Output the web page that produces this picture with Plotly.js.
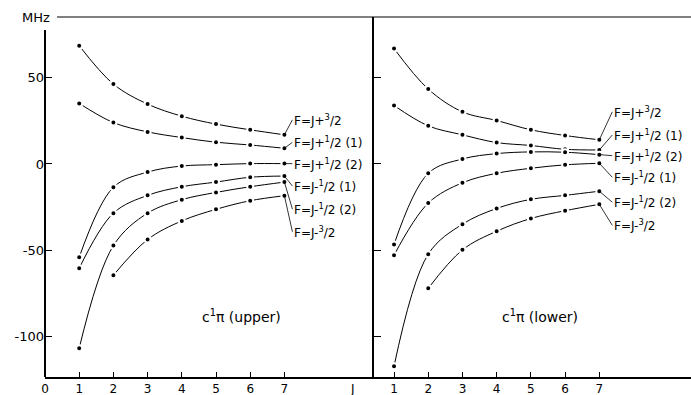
<!DOCTYPE html>
<html>
<head>
<meta charset="utf-8">
<script src="https://cdn.plot.ly/plotly-3.0.1.min.js"></script>
<style>
  html, body { margin: 0; padding: 0; background: #fff; }
  #grafico { width: 691px; height: 395px; }
</style>
</head>
<body>
<div id="grafico"></div>
<script>
// valores de J
const J = [1, 2, 3, 4, 5, 6, 7];

// c1Pi (upper) en MHz
const upperJp32 = [68.6, 46.3, 34.7, 27.7, 23.1, 19.8, 16.9];
const upperJp12a = [35.1, 24.0, 18.6, 15.3, 12.6, 11.0, 9.1];
const upperJp12b = [-54.1, -13.5, -4.7, -1.2, -0.4, 0.2, 0.2];
const upperJm12a = [-60.5, -28.5, -18.2, -13.2, -10.5, -7.7, -7.0];
const upperJm12b = [-106.8, -47.3, -28.5, -20.7, -16.5, -13.2, -10.5];
const upperJm32 = [null, -64.5, -43.8, -33.0, -26.3, -21.3, -18.4];

// c1Pi (lower) en MHz
const lowerJp32 = [66.9, 43.4, 30.2, 25.2, 19.8, 16.5, 14.0];
const lowerJp12a = [33.9, 22.1, 16.9, 12.4, 10.7, 8.5, 8.1];
const lowerJp12b = [-46.7, -5.4, 2.9, 6.0, 7.0, 6.8, 5.4];
const lowerJm12a = [-52.9, -22.7, -10.9, -5.4, -2.5, -0.5, 0.4];
const lowerJm12b = [-117.3, -52.3, -34.9, -25.8, -20.5, -18.2, -15.8];
const lowerJm32 = [null, -72.1, -49.8, -39.0, -31.6, -27.1, -23.4];

const etiquetas = [
    "F=J+<sup>3</sup>/2",
    "F=J+<sup>1</sup>/2 (1)",
    "F=J+<sup>1</sup>/2 (2)",
    "F=J-<sup>1</sup>/2 (1)",
    "F=J-<sup>1</sup>/2 (2)",
    "F=J-<sup>3</sup>/2"
];
const xTicks = [0, 1, 2, 3, 4, 5, 6, 7];
const yTicks = [50, 0, -50, -100];
const yTickText = ["50", "0", "-50", "-100"];

const upper = [upperJp32, upperJp12a, upperJp12b, upperJm12a, upperJm12b, upperJm32];
const lower = [lowerJp32, lowerJp12a, lowerJp12b, lowerJm12a, lowerJm12b, lowerJm32];

const fuente = "DejaVu Sans, Liberation Sans, sans-serif";

function serie(y, xa, ya) {
    return {
        x: J, y: y, xaxis: xa, yaxis: ya,
        mode: "lines+markers",
        line: { color: "black", width: 1, shape: "spline", smoothing: 1 },
        marker: { color: "black", size: 6, line: { color: "white", width: 2 } },
        connectgaps: false,
        showlegend: false,
        hoverinfo: "skip"
    };
}

const trazas = [];
upper.forEach(y => trazas.push(serie(y, "x", "y")));
lower.forEach(y => trazas.push(serie(y, "x2", "y2")));

// desplazamientos de las etiquetas (px)
const ayUpper = [-15, -6, 0, 10, 27, 36];
const ayLower = [-28, -15, 1, 14, 11, 21];

const anotaciones = [];
upper.forEach((y, i) => anotaciones.push({
    x: 7, y: y[6], xref: "x", yref: "y", text: etiquetas[i],
    showarrow: true, arrowhead: 0, arrowwidth: 0.8, arrowcolor: "black",
    ax: 8, ay: ayUpper[i], xanchor: "left", yanchor: "middle",
    font: { family: fuente, size: 12, color: "black" }
}));
lower.forEach((y, i) => anotaciones.push({
    x: 7, y: y[6], xref: "x2", yref: "y2", text: etiquetas[i],
    showarrow: true, arrowhead: 0, arrowwidth: 0.8, arrowcolor: "black",
    ax: 13, ay: ayLower[i], xanchor: "left", yanchor: "middle",
    font: { family: fuente, size: 12, color: "black" }
}));
anotaciones.push(
    { x: 5.75, y: -88, xref: "x", yref: "y", text: "c<sup>1</sup>π (upper)", showarrow: false,
      font: { family: fuente, size: 14, color: "black" } },
    { x: 5.27, y: -88, xref: "x2", yref: "y2", text: "c<sup>1</sup>π (lower)", showarrow: false,
      font: { family: fuente, size: 14, color: "black" } },
    { x: 0.011, y: 1, xref: "paper", yref: "paper", text: "MHz", showarrow: false,
      xanchor: "right", yanchor: "middle", font: { family: fuente, size: 13, color: "black" } },
    { x: 9, y: 0, xref: "x", yref: "paper", text: "J", showarrow: false,
      yanchor: "top", yshift: -3, font: { family: fuente, size: 12, color: "black" } }
);

const ejeX = {
    showgrid: false, zeroline: false, showline: true, linecolor: "black", linewidth: 2,
    ticks: "inside", ticklen: 5, tickcolor: "black", tickwidth: 1,
    tickfont: { family: fuente, size: 12, color: "black" }
};
const rangoY = [-123.5, 85.2];

Plotly.newPlot("grafico", trazas, {
    width: 691, height: 395,
    margin: { l: 45, r: 0, t: 17, b: 18 },
    paper_bgcolor: "white", plot_bgcolor: "white",
    xaxis: Object.assign({}, ejeX, {
        domain: [0, 0.5093], range: [0, 9.62], anchor: "y",
        tickvals: xTicks, ticktext: xTicks.map(String)
    }),
    xaxis2: Object.assign({}, ejeX, {
        domain: [0.5093, 1], range: [0.415, 9.68], anchor: "y2",
        tickvals: J, ticktext: J.map(String)
    }),
    yaxis: {
        range: rangoY, anchor: "x", showgrid: false, zeroline: false, showline: false,
        ticks: "inside", ticklen: 7, tickcolor: "black", tickwidth: 1,
        tickvals: yTicks, ticktext: yTickText,
        tickfont: { family: fuente, size: 13, color: "black" }
    },
    yaxis2: {
        range: rangoY, anchor: "x2", showgrid: false, zeroline: false,
        showline: true, linecolor: "black", linewidth: 2,
        ticks: "inside", ticklen: 7, tickcolor: "black", tickwidth: 1,
        tickvals: yTicks, showticklabels: false
    },
    shapes: [
        { type: "line", xref: "paper", yref: "paper", x0: 0, x1: 0, y0: 0, y1: 0.964,
          line: { color: "black", width: 2 } },
        { type: "line", xref: "paper", yref: "paper", x0: 0.0186, x1: 1, y0: 1, y1: 1,
          line: { color: "black", width: 1 } }
    ],
    annotations: anotaciones
}, { displayModeBar: false, staticPlot: true });
</script>
</body>
</html>
